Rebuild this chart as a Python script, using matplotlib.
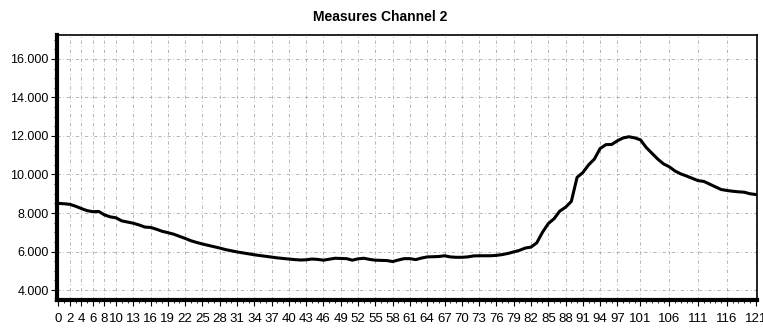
import matplotlib.pyplot as plt
import numpy as np
from matplotlib.ticker import MultipleLocator

# measured values, channel 2 (one reading per sample 0..121)
samples = np.arange(0, 122)
measures = [
    8500, 8480, 8450, 8350, 8230, 8120, 8070, 8080, 7900, 7800,
    7750, 7590, 7530, 7470, 7380, 7270, 7250, 7160, 7050, 6980,
    6900, 6790, 6680, 6560, 6470, 6390, 6320, 6250, 6180, 6100,
    6040, 5980, 5930, 5880, 5830, 5790, 5750, 5710, 5670, 5640,
    5610, 5580, 5560, 5570, 5610, 5590, 5550, 5600, 5650, 5640,
    5630, 5550, 5620, 5650, 5590, 5550, 5540, 5530, 5480, 5560,
    5630, 5630, 5580, 5660, 5720, 5730, 5740, 5780, 5720, 5700,
    5700, 5720, 5770, 5780, 5780, 5780, 5800, 5840, 5900, 5980,
    6060, 6180, 6230, 6450, 7000, 7450, 7700, 8100, 8300, 8600,
    9850, 10100, 10500, 10800, 11350, 11550, 11560, 11750, 11900, 11960,
    11900, 11800, 11400, 11100, 10800, 10550, 10400, 10180, 10030, 9920,
    9800, 9680, 9640, 9500, 9360, 9220, 9170, 9130, 9100, 9080,
    9000, 8960,
]
x_ticks = [0, 2, 4, 6, 8] + list(range(10, 98, 3)) + [101, 106, 111, 116, 121]
y_ticks = [4000, 6000, 8000, 10000, 12000, 14000, 16000]
y_labels = ["4.000", "6.000", "8.000", "10.000", "12.000", "14.000", "16.000"]

plt.rcParams['font.family'] = ['Liberation Sans', 'DejaVu Sans']

fig = plt.figure(figsize=(7.63, 3.29), dpi=100)
ax = fig.add_axes([0.075, 0.088, 0.917, 0.806])

ax.plot(samples, measures, color="black", linewidth=2.2)

ax.set_xlim(-0.2, 121.2)
ax.set_ylim(3480, 17250)

ax.set_xticks(x_ticks)
ax.set_xticklabels([str(v) for v in x_ticks], fontsize=9.5)
ax.xaxis.set_minor_locator(MultipleLocator(1))
ax.set_yticks(y_ticks)
ax.set_yticklabels(y_labels, fontsize=9)
ax.yaxis.set_minor_locator(MultipleLocator(500))

ax.tick_params(axis="x", which="major", length=4, width=0.8, pad=5)
ax.tick_params(axis="y", which="major", length=4, width=0.8, pad=2)
ax.tick_params(axis="both", which="minor", length=2, width=0.6)

ax.grid(True, which="major", color="#aaaaaa", linestyle=(0, (4, 3, 1, 3)), linewidth=0.6)

for side in ["left", "bottom"]:
    ax.spines[side].set_linewidth(3)
for side in ["top", "right"]:
    ax.spines[side].set_linewidth(1.2)

ax.set_title("Measures Channel 2", fontsize=10, fontweight="bold", x=0.461, pad=10)

fig.savefig("out.png", dpi=100)
